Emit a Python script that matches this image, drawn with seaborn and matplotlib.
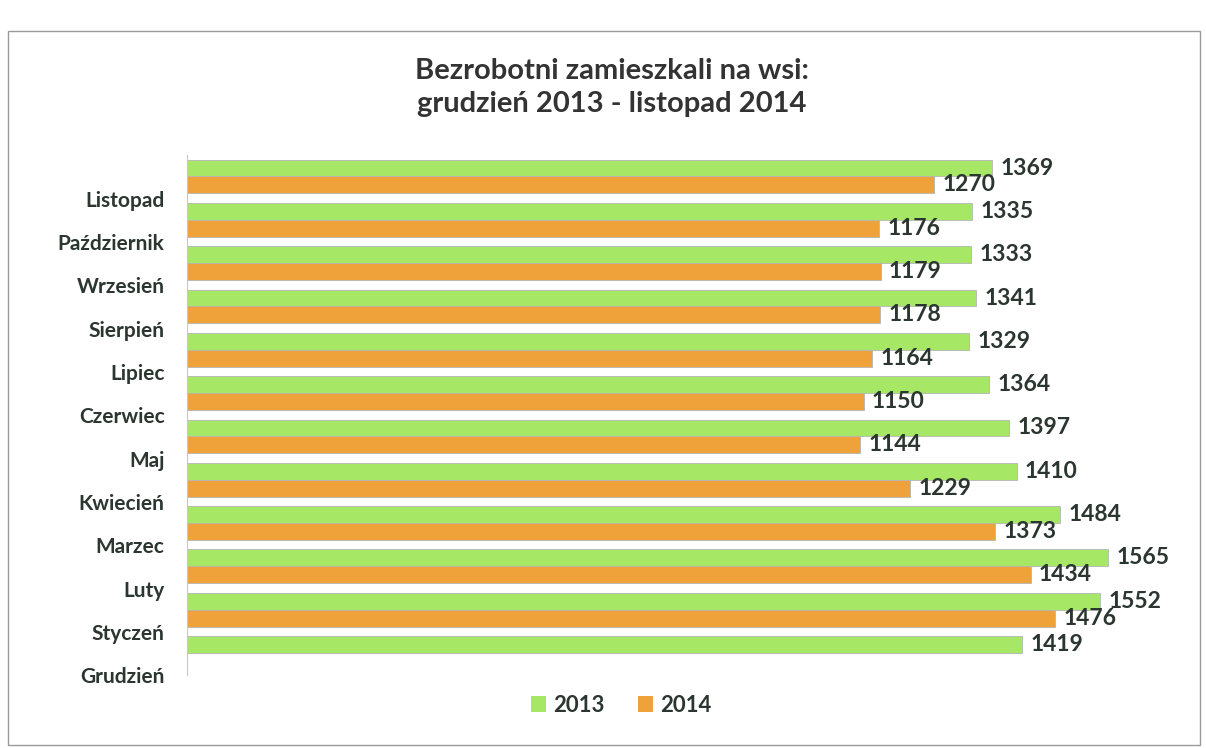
import pandas as pd
import numpy as np
import matplotlib.pyplot as plt
import matplotlib.transforms as mtransforms
from matplotlib.patches import Rectangle, Patch
import seaborn as sns

# --- Data ---
months = ['Listopad', 'Październik', 'Wrzesień', 'Sierpień', 'Lipiec', 'Czerwiec',
          'Maj', 'Kwiecień', 'Marzec', 'Luty', 'Styczeń', 'Grudzień']
values_2013 = [1369, 1335, 1333, 1341, 1329, 1364, 1397, 1410, 1484, 1565, 1552, 1419]
values_2014 = [1270, 1176, 1179, 1178, 1164, 1150, 1144, 1229, 1373, 1434, 1476, np.nan]
years = ['2013', '2014']

df = pd.DataFrame({
    'month': months * 2,
    'value': values_2013 + values_2014,
    'year': [years[0]] * len(months) + [years[1]] * len(months),
})

colors = {'2013': '#a6e865', '2014': '#f0a23a'}
text_color = '#2b3630'

sns.set_style('white')
plt.rcParams['font.family'] = ['Lato', 'DejaVu Sans']

fig = plt.figure(figsize=(12.06, 7.48), dpi=100)
ax = fig.add_axes([0.155, 0.098, 0.805, 0.695])

sns.barplot(data=df, y='month', x='value', hue='year', order=months, hue_order=years,
            palette=colors, saturation=1, orient='h', width=0.78, ax=ax, legend=False,
            edgecolor='#b5b5b5', linewidth=0.6)

# --- Value labels ---
for cont in ax.containers:
    labels = ['' if np.isnan(v) else f'{v:.0f}' for v in cont.datavalues]
    ax.bar_label(cont, labels=labels, padding=6, fontsize=16.5, fontweight='bold',
                 color=text_color)

ax.set_xlim(0, 1650)
ax.set_xlabel('')
ax.set_ylabel('')
ax.set_xticks([])
ax.tick_params(axis='y', length=0, pad=16, labelsize=15)
for lab in ax.get_yticklabels():
    lab.set_fontweight('bold')
    lab.set_color(text_color)
    lab.set_transform(lab.get_transform() + mtransforms.ScaledTranslation(0, -16 / 72, fig.dpi_scale_trans))

for side in ['top', 'right', 'bottom']:
    ax.spines[side].set_visible(False)
ax.spines['left'].set_color('#c8c8c8')

# --- Title ---
fig.text(0.507, 0.883, 'Bezrobotni zamieszkali na wsi:\ngrudzień 2013 - listopad 2014',
         ha='center', va='center', fontsize=21, fontweight='bold', color='#333333',
         linespacing=1.35)

# --- Legend ---
handles = [Patch(facecolor=colors[y], edgecolor='none', label=y) for y in years]
leg = fig.legend(handles=handles, loc='center', bbox_to_anchor=(0.515, 0.057), ncol=2,
                 frameon=False, handlelength=0.7, handleheight=0.7, handletextpad=0.3,
                 columnspacing=1.5, prop={'weight': 'bold', 'size': 16})
for t in leg.get_texts():
    t.set_color(text_color)

# --- Outer frame ---
fig.patches.append(Rectangle((0.007, 0.004), 0.988, 0.955, transform=fig.transFigure,
                             fill=False, edgecolor='#9a9a9a', linewidth=1))

fig.savefig('out.png', dpi=100)
